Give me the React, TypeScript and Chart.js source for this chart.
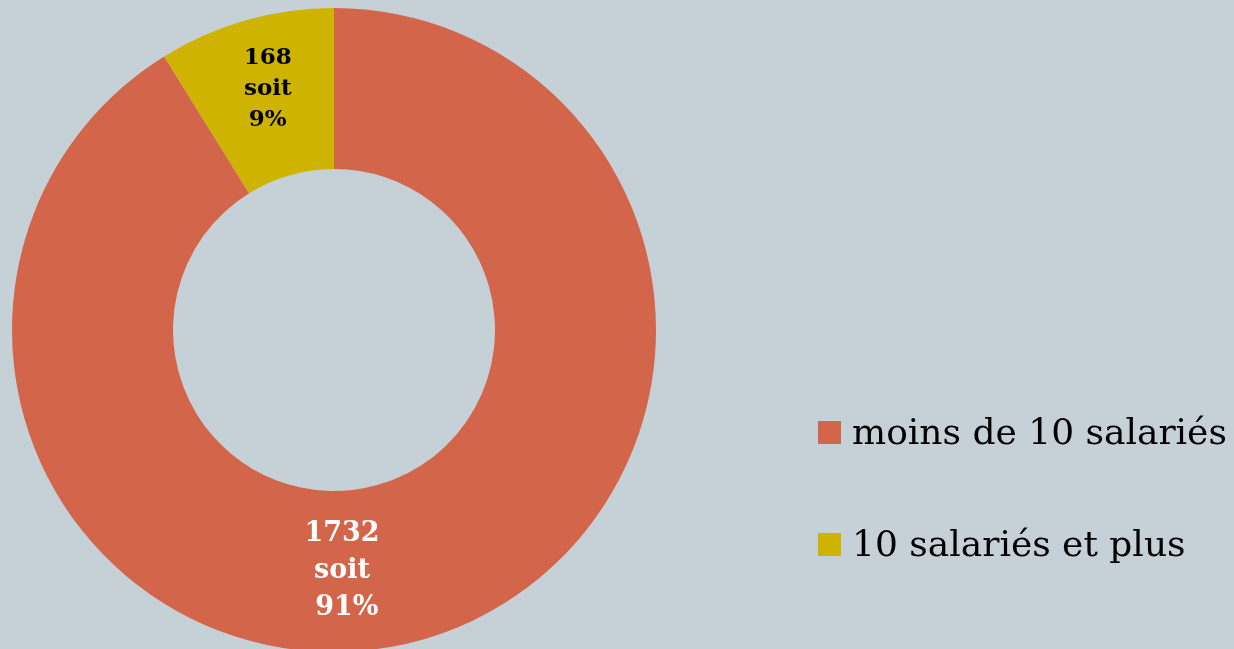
import React, { useEffect, useRef } from "react";
import { Chart, registerables } from "chart.js";

Chart.register(...registerables);

const categories = ["moins de 10 salariés", "10 salariés et plus"];
const values = [1732, 168];
const percentLabels = ["91%", "9%"];
const colors = ["#D3654B", "#CEB400"];
const labelColors = ["#FFFFFF", "#000000"];
const labelFontSizes = [27, 23];
const labelLineHeights = [37, 31];
const labelAngleShift = [14, 0];
const labelDy = [0, -9];
const BG = "#C6D1D7";
const FONT = "'DejaVu Serif', Georgia, serif";

const labelPlugin = {
  id: "sliceLabels",
  afterDatasetsDraw(chart: any) {
    const ctx = chart.ctx;
    const meta = chart.getDatasetMeta(0);
    meta.data.forEach((arc: any, i: number) => {
      const { x, y, startAngle, endAngle, innerRadius, outerRadius } = arc.getProps(
        ["x", "y", "startAngle", "endAngle", "innerRadius", "outerRadius"],
        true
      );
      const mid = (startAngle + endAngle) / 2 + (labelAngleShift[i] * Math.PI) / 180;
      const r = (innerRadius + outerRadius) / 2;
      const cx = x + Math.cos(mid) * r;
      const cy = y + Math.sin(mid) * r + labelDy[i];
      const lines = [String(values[i]), "soit", (i === 0 ? " " : "") + percentLabels[i]];
      ctx.save();
      ctx.fillStyle = labelColors[i];
      ctx.font = `bold ${labelFontSizes[i]}px ${FONT}`;
      ctx.textAlign = "center";
      ctx.textBaseline = "middle";
      const lh = labelLineHeights[i];
      lines.forEach((t, k) => {
        ctx.fillText(t, cx, cy + (k - 1) * lh);
      });
      ctx.restore();
    });
  },
};

export default function App() {
  const ref = useRef<HTMLCanvasElement>(null);
  useEffect(() => {
    if (!ref.current) return;
    const chart = new Chart(ref.current, {
      type: "doughnut",
      data: {
        labels: categories,
        datasets: [
          {
            data: values,
            backgroundColor: colors,
            borderWidth: 0,
          },
        ],
      },
      options: {
        responsive: false,
        animation: false,
        cutout: "50%",
        layout: { padding: { left: 12, right: 578, top: 8, bottom: 8 } },
        plugins: {
          legend: { display: false },
          tooltip: { enabled: false },
        },
      },
      plugins: [labelPlugin],
    });
    return () => chart.destroy();
  }, []);

  return (
    <div
      style={{
        position: "fixed",
        left: 0,
        top: 0,
        width: 1234,
        height: 649,
        overflow: "hidden",
        background: BG,
      }}
    >
      <canvas ref={ref} width={1234} height={660} style={{ position: "absolute", left: 0, top: 0 }} />
      {categories.map((c, i) => (
        <div
          key={c}
          style={{
            position: "absolute",
            left: 818,
            top: 408 + i * 112,
            height: 48,
            display: "flex",
            alignItems: "center",
            whiteSpace: "nowrap",
          }}
        >
          <span
            style={{
              display: "inline-block",
              width: 23,
              height: 23,
              background: colors[i],
              marginRight: 11,
            }}
          />
          <span style={{ fontFamily: FONT, fontSize: 36, color: "#000", lineHeight: "48px" }}>{c}</span>
        </div>
      ))}
    </div>
  );
}
